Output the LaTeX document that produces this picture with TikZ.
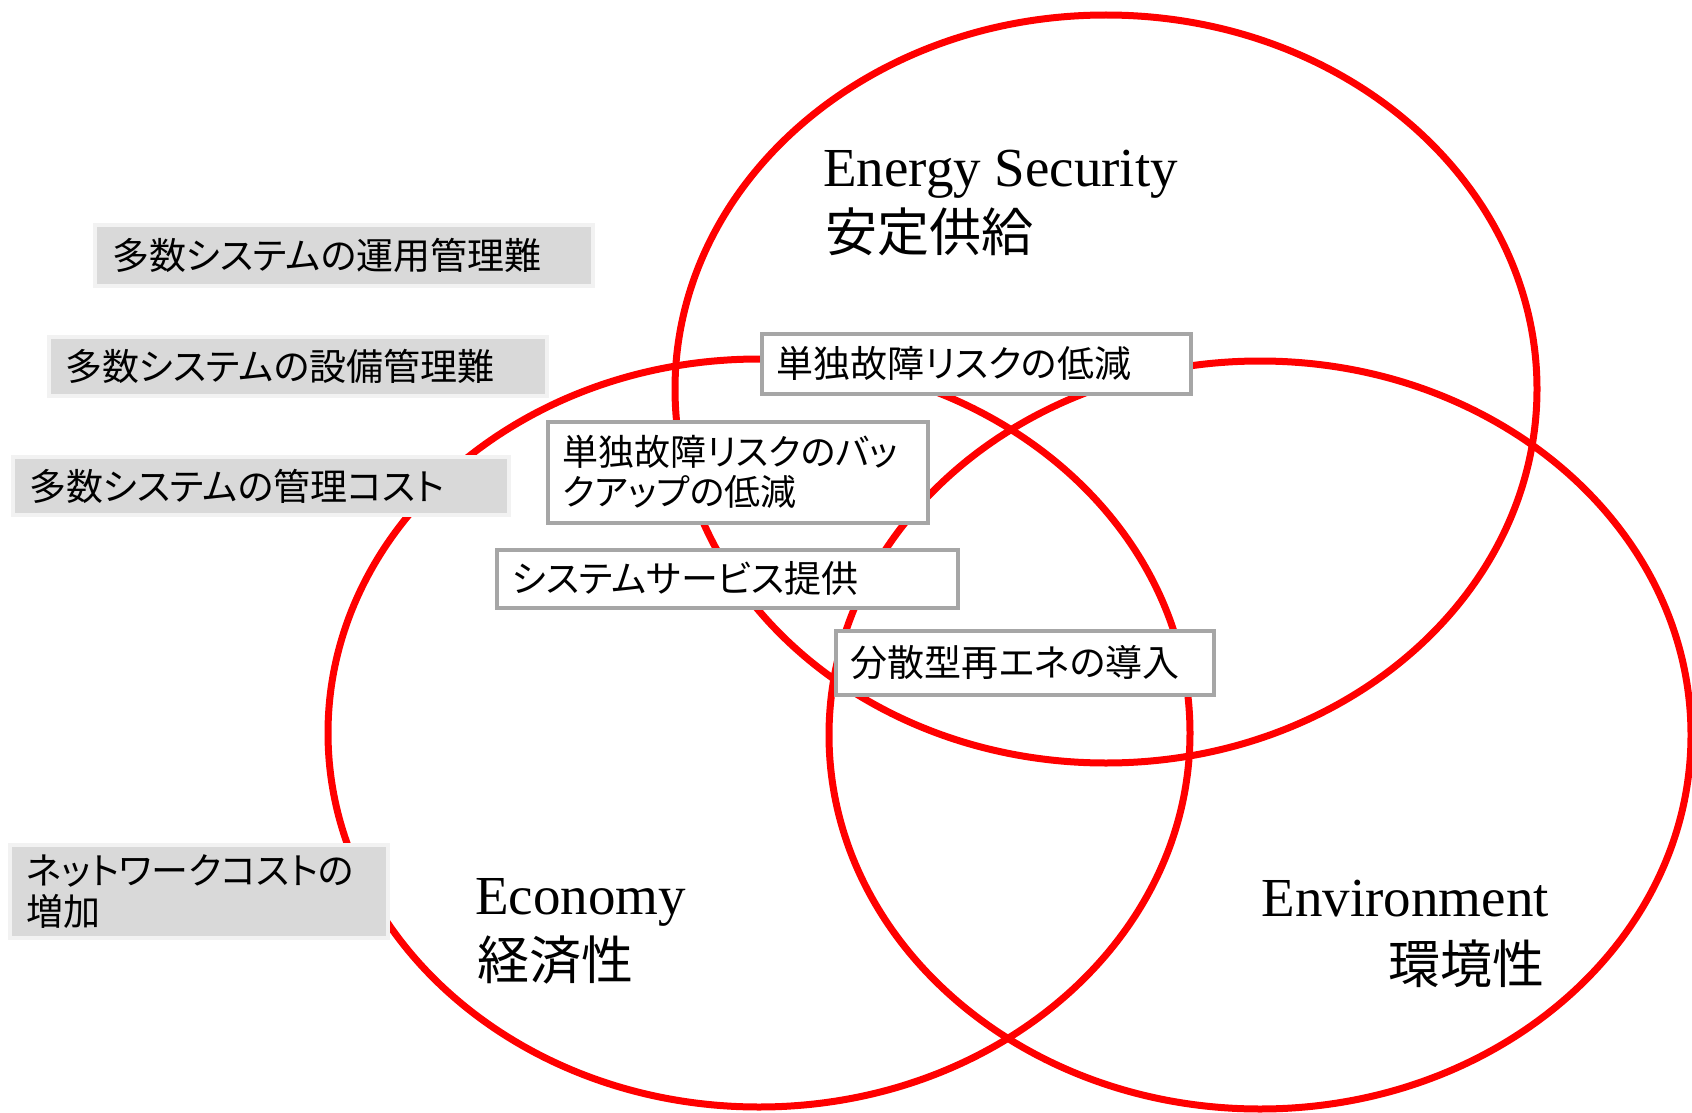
\documentclass[tikz,border=0pt]{standalone}
\usepackage{fontspec}
\usetikzlibrary{shapes.geometric}
\newfontfamily\jp[RawFeature=+palt]{Noto Sans CJK JP}
\newfontfamily\jpl{Noto Sans CJK JP}
\newfontfamily\enserif{Liberation Serif}
\definecolor{vred}{HTML}{FF0000}
\definecolor{boxgray}{HTML}{D9D9D9}
\definecolor{boxedge}{HTML}{F2F2F2}
\definecolor{wedge}{HTML}{A6A6A6}
\begin{document}
\begin{tikzpicture}[x=1pt,y=-1pt,
  circ/.style={draw=vred, line width=7pt, ellipse, minimum width=862pt, minimum height=748pt, inner sep=0pt},
  boxbase/.style={anchor=north west, align=left, inner ysep=0pt, font=\jp\fontsize{37pt}{41pt}\selectfont},
  gbox/.style={boxbase, draw=boxedge, fill=boxgray, line width=4pt},
  wbox/.style={boxbase, draw=wedge, fill=white, line width=3.5pt},
  entxt/.style={inner sep=0pt, font=\enserif\fontsize{55pt}{60pt}\selectfont},
  jptxt/.style={inner sep=0pt, font=\jpl\fontsize{52pt}{60pt}\selectfont}
]
\useasboundingbox (0,0) rectangle (1692,1113);
\node[circ] (sec) at (1106,389) {};
\node[circ] (eco) at (759,733) {};
\node[circ] (env) at (1260,735) {};

\node[gbox, text width=464pt, inner xsep=17pt, minimum height=61pt] (g1) at (93,223) {多数システムの運用管理難};
\node[gbox, text width=466pt, inner xsep=16pt, minimum height=59pt] (g2) at (47,335) {多数システムの設備管理難};
\node[gbox, text width=464pt, inner xsep=16pt, minimum height=58pt] (g3) at (11,455) {多数システムの管理コスト};
\node[gbox, text width=346pt, inner xsep=16pt, minimum height=93pt] (g4) at (8,843) {ネットワークコストの\\増加};

\node[wbox, text width=399pt, inner xsep=15pt, minimum height=60pt] (w1) at (760,332) {単独故障リスクの低減};
\node[wbox, text width=350pt, inner xsep=15pt, minimum height=101pt, font=\jp\fontsize{36pt}{40pt}\selectfont] (w2) at (546,420) {単独故障リスクのバッ\\クアップの低減};
\node[wbox, text width=431pt, inner xsep=15pt, minimum height=58pt] (w3) at (495,548) {システムサービス提供};
\node[wbox, text width=348pt, inner xsep=15pt, minimum height=64pt] (w4) at (834,629) {分散型再エネの導入};

\node[entxt, anchor=base west] (secen) at (823,186) {Energy Security};
\node[jptxt, anchor=west] (secjp) at (825,232) {安定供給};
\node[entxt, anchor=base west] (ecoen) at (475,914) {Economy};
\node[jptxt, anchor=west] (ecojp) at (477,960) {経済性};
\node[entxt, anchor=base east] (enven) at (1549,916) {Environment};
\node[jptxt, anchor=east] (envjp) at (1545,964) {環境性};
\end{tikzpicture}
\end{document}
